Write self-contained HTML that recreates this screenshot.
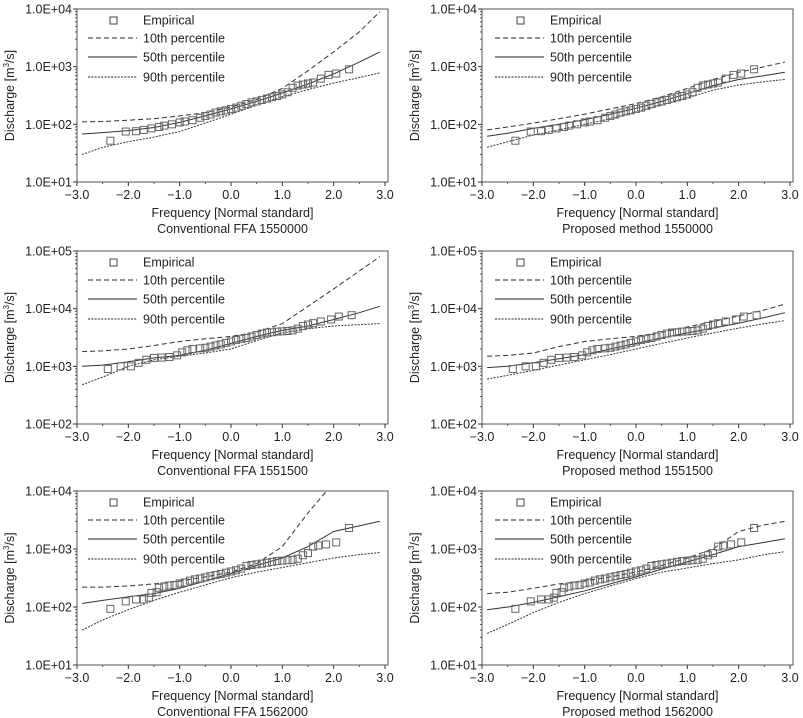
<!DOCTYPE html>
<html><head><meta charset="utf-8"><style>
html,body{margin:0;padding:0;background:#fff;}
svg{display:block;font-family:"Liberation Sans",Arial,sans-serif;}
</style></head><body>
<svg id="chart" width="803" height="718" viewBox="0 0 803 718"></svg>
<script>
// ---- data ----
const zGrid = [-2.9,-2.5,-2,-1.5,-1,-0.5,0,0.5,1,1.5,2,2.5,2.9];
const xTicks = [-3,-2,-1,0,1,2,3];
const xTickLabels = ["\u22123.0","\u22122.0","\u22121.0","0.0","1.0","2.0","3.0"];

const emp1550000Z = [-2.35,-2.05,-1.85,-1.7,-1.55,-1.4,-1.3,-1.15,-1.0,-0.9,-0.75,-0.6,-0.5,-0.4,-0.3,-0.2,-0.1,0,0.1,0.2,0.3,0.4,0.5,0.6,0.7,0.8,0.9,1.0,1.1,1.2,1.3,1.4,1.5,1.6,1.75,1.9,2.05,2.3];
const emp1550000Q = [52,75,76,80,85,90,95,100,108,112,118,130,140,148,160,168,175,185,195,210,225,240,250,265,280,295,310,330,360,430,470,490,510,530,620,720,760,900];
const conv1550000P10 = [110,112,118,125,140,160,200,270,420,850,1800,4000,9000];
const conv1550000P50 = [68,72,78,88,108,140,185,250,350,500,750,1200,1800];
const conv1550000P90 = [30,40,50,60,75,105,150,215,300,400,520,650,780];
const prop1550000P10 = [80,90,105,125,150,185,230,300,420,600,800,1000,1200];
const prop1550000P50 = [62,70,85,100,120,150,190,250,340,470,600,700,800];
const prop1550000P90 = [40,50,65,80,100,125,165,215,290,390,480,550,600];

const emp1551500Z = [-2.4,-2.15,-1.95,-1.8,-1.65,-1.5,-1.35,-1.2,-1.05,-0.95,-0.85,-0.75,-0.6,-0.5,-0.4,-0.3,-0.2,-0.1,0,0.1,0.2,0.3,0.4,0.5,0.6,0.7,0.8,0.9,1.0,1.1,1.2,1.3,1.4,1.5,1.6,1.75,1.95,2.1,2.35];
const emp1551500Q = [900,1000,1000,1150,1300,1400,1420,1450,1550,1750,1900,2000,2050,2100,2200,2300,2400,2550,2700,2850,3000,3100,3300,3500,3700,3850,3900,4000,4050,4100,4200,4500,5000,5300,5600,6000,6500,7300,7700];
const conv1551500P10 = [1800,1850,2000,2300,2700,3000,3300,3900,5500,11000,22000,45000,80000];
const conv1551500P50 = [1000,1050,1200,1400,1550,1900,2500,3300,4200,5000,6500,8500,11000];
const conv1551500P90 = [480,650,1000,1300,1500,1700,2000,2800,3800,4500,5000,5300,5500];
const prop1551500P10 = [1500,1550,1700,2200,2700,3000,3300,3900,4800,6000,7500,9500,12000];
const prop1551500P50 = [950,1000,1150,1350,1600,2000,2500,3100,3800,4600,5600,7000,8500];
const prop1551500P90 = [600,700,850,1050,1300,1600,2000,2500,3100,3800,4600,5500,6200];

const emp1562000Z = [-2.35,-2.05,-1.85,-1.7,-1.6,-1.55,-1.45,-1.4,-1.3,-1.2,-1.1,-1.0,-0.9,-0.8,-0.7,-0.6,-0.5,-0.4,-0.3,-0.2,-0.1,0,0.1,0.2,0.3,0.4,0.5,0.6,0.7,0.8,0.9,1.0,1.1,1.2,1.3,1.4,1.5,1.6,1.7,1.85,2.05,2.3];
const emp1562000Q = [93,125,135,135,145,175,180,215,225,235,240,255,265,285,300,310,325,340,355,370,390,410,430,460,510,530,545,560,580,600,620,630,640,650,680,780,850,1100,1150,1200,1300,2300];
const conv1562000P10 = [220,220,230,250,280,330,400,560,1100,4200,14000,40000,80000];
const conv1562000P50 = [115,130,150,170,210,280,380,520,700,1100,2000,2500,3000];
const conv1562000P90 = [40,60,90,130,180,240,320,400,480,580,700,800,870];
const prop1562000P10 = [170,180,210,250,280,330,400,520,700,1000,2000,2600,3000];
const prop1562000P50 = [90,100,120,150,190,250,330,450,600,800,1100,1300,1500];
const prop1562000P90 = [35,50,80,120,170,230,310,400,470,560,650,800,900];

// ---- drawing ----
const NS = "http://www.w3.org/2000/svg";
const svg = document.getElementById("chart");
function mk(tag, attrs, parent){
  const e = document.createElementNS(NS, tag);
  for (const k in attrs) e.setAttribute(k, attrs[k]);
  (parent||svg).appendChild(e);
  return e;
}
const panels = [
  {id:"conv-1550000", x0:77, x1:385, top:9, bot:182, eTop:4, eBot:1, caption:"Conventional FFA 1550000", ez:emp1550000Z, eq:emp1550000Q, p10:conv1550000P10, p50:conv1550000P50, p90:conv1550000P90},
  {id:"prop-1550000", x0:482, x1:790, top:9, bot:182, eTop:4, eBot:1, caption:"Proposed method 1550000", ez:emp1550000Z, eq:emp1550000Q, p10:prop1550000P10, p50:prop1550000P50, p90:prop1550000P90},
  {id:"conv-1551500", x0:77, x1:385, top:251, bot:424, eTop:5, eBot:2, caption:"Conventional FFA 1551500", ez:emp1551500Z, eq:emp1551500Q, p10:conv1551500P10, p50:conv1551500P50, p90:conv1551500P90},
  {id:"prop-1551500", x0:482, x1:790, top:251, bot:424, eTop:5, eBot:2, caption:"Proposed method 1551500", ez:emp1551500Z, eq:emp1551500Q, p10:prop1551500P10, p50:prop1551500P50, p90:prop1551500P90},
  {id:"conv-1562000", x0:77, x1:385, top:491, bot:665, eTop:4, eBot:1, caption:"Conventional FFA 1562000", ez:emp1562000Z, eq:emp1562000Q, p10:conv1562000P10, p50:conv1562000P50, p90:conv1562000P90},
  {id:"prop-1562000", x0:482, x1:790, top:491, bot:665, eTop:4, eBot:1, caption:"Proposed method 1562000", ez:emp1562000Z, eq:emp1562000Q, p10:prop1562000P10, p50:prop1562000P50, p90:prop1562000P90}
];
const styles = {p10:{dash:"5,3", w:1}, p50:{dash:"", w:1}, p90:{dash:"2,1.3", w:1}};

panels.forEach((p, idx) => {
  const g = mk("g", {});
  
  
  const xs = z => p.x0 + (z + 3) / 6 * (p.x1 - p.x0);
  const ys = q => p.bot - (Math.log10(q) - p.eBot) / (p.eTop - p.eBot) * (p.bot - p.top);
  const right = p.x1 + 3;
  const cid = "clip" + idx;
  const cp = mk("clipPath", {id:cid}, g);
  mk("rect", {x:p.x0, y:p.top, width:right - p.x0, height:p.bot - p.top}, cp);

  const frame = mk("rect", {x:p.x0, y:p.top, width:right - p.x0, height:p.bot - p.top, fill:"none", stroke:"#555", "stroke-width":1}, g);
  
  

  for (let e = p.eBot; e <= p.eTop; e++) {
    const y = ys(Math.pow(10, e));
    mk("line", {x1:p.x0 - 4, x2:p.x0, y1:y, y2:y, stroke:"#333"}, g);
    const t = mk("text", {x:p.x0 - 5, y:y + 4.5, "text-anchor":"end", "font-size":"12.5", fill:"#222"}, g);
    t.textContent = "1.0E+" + String(e).padStart(2, "0");
    
    
    if (e < p.eTop) {
      for (let m = 2; m <= 9; m++) {
        const ym = ys(m * Math.pow(10, e));
        mk("line", {x1:p.x0 - 2, x2:p.x0, y1:ym, y2:ym, stroke:"#555"}, g);
      }
    }
  }
  xTicks.forEach((v, i) => {
    const x = xs(v);
    mk("line", {x1:x, x2:x, y1:p.bot, y2:p.bot + 4, stroke:"#333"}, g);
    if (i < xTicks.length - 1) {
      const xm = xs(v + 0.5);
      mk("line", {x1:xm, x2:xm, y1:p.bot, y2:p.bot + 2, stroke:"#555"}, g);
    }
    const t = mk("text", {x:x, y:p.bot + 17, "text-anchor":"middle", "font-size":"12.5", fill:"#222"}, g);
    t.textContent = xTickLabels[i];
    
    
  });
  const cx = (p.x0 + right) / 2;
  const xt = mk("text", {x:cx, y:p.bot + 35, "text-anchor":"middle", "font-size":"12.5", fill:"#222"}, g);
  xt.textContent = "Frequency [Normal standard]";
  
  
  const cap = mk("text", {x:cx, y:p.bot + 51, "text-anchor":"middle", "font-size":"12.5", fill:"#222"}, g);
  cap.textContent = p.caption;
  
  
  const ly = (p.top + p.bot) / 2, lx = p.x0 - 63;
  const yt = mk("text", {x:lx, y:ly, "text-anchor":"middle", "font-size":"12.5", fill:"#222", transform:"rotate(-90 " + lx + " " + ly + ")"}, g);
  yt.innerHTML = 'Discharge [m<tspan font-size="8" dy="-5">3</tspan><tspan dy="5">/s]</tspan>';
  
  

  ["p10","p50","p90"].forEach(k => {
    const pts = zGrid.map((z, i) => xs(z).toFixed(1) + "," + ys(p[k][i]).toFixed(1)).join(" ");
    const pl = mk("polyline", {points:pts, fill:"none", stroke:"#333", "stroke-width":styles[k].w, "stroke-dasharray":styles[k].dash, "clip-path":"url(#" + cid + ")"}, g);
    
    
  });
  p.ez.forEach((z, i) => {
    const r = mk("rect", {x:xs(z) - 3.5, y:ys(p.eq[i]) - 3.5, width:7, height:7, fill:"none", stroke:"#666", "stroke-width":1}, g);
    
    
  });

  const lg = mk("g", {}, g);
  
  
  const off = p.x0 > 300 ? 2 : 0;
  const sq = mk("rect", {x:p.x0 + 33 + off, y:p.top + 8, width:7, height:7, fill:"none", stroke:"#444"}, lg);
  
  
  const labels = ["Empirical","10th percentile","50th percentile","90th percentile"];
  const keys = [null,"p10","p50","p90"];
  const offsets = [11, 29, 48, 68];
  labels.forEach((lab, i) => {
    const y = p.top + offsets[i];
    if (keys[i]) {
      const l = mk("line", {x1:p.x0 + 11 + off, x2:p.x0 + 60 + off, y1:y, y2:y, stroke:"#222", "stroke-dasharray":styles[keys[i]].dash}, lg);
      
      
    }
    const t = mk("text", {x:p.x0 + 66 + off, y:y + 4.5, "font-size":"12.5", fill:"#222"}, lg);
    t.textContent = lab;
    
    
  });
});
</script>
</body></html>
